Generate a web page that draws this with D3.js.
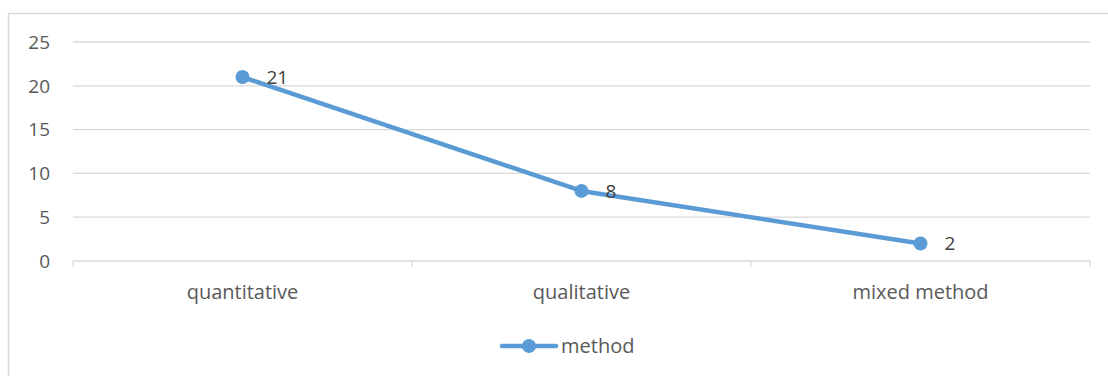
<!DOCTYPE html>
<html>
<head>
<meta charset="utf-8">
<script src="https://cdn.jsdelivr.net/npm/d3@7"></script>
<style>
  body { margin: 0; background: #fff; }
  text { font-family: "Open Sans", "Noto Sans", sans-serif; }
</style>
</head>
<body>
<div id="chart"></div>
<script>
const categories = ["quantitative", "qualitative", "mixed method"];
const values = [21, 8, 2];
const yTicks = [0, 5, 10, 15, 20, 25];
const seriesName = "method";

const width = 1108, height = 376;
const margin = {top: 42, right: 18, bottom: 115, left: 73};
const color = "#5B9BD5";

const svg = d3.select("#chart").append("svg")
  .attr("width", width)
  .attr("height", height);

// chart area border
svg.append("rect")
  .attr("x", 8.5).attr("y", 13.5)
  .attr("width", width + 10).attr("height", height + 10)
  .attr("fill", "none")
  .attr("stroke", "#d9d9d9")
  .attr("stroke-width", 1.5);

const x = d3.scaleBand()
  .domain(categories)
  .range([margin.left, width - margin.right]);

const y = d3.scaleLinear()
  .domain([0, 25])
  .range([height - margin.bottom, margin.top]);

// gridlines
svg.append("g")
  .selectAll("line")
  .data(yTicks.filter(d => d > 0))
  .join("line")
  .attr("x1", margin.left).attr("x2", width - margin.right)
  .attr("y1", d => y(d)).attr("y2", d => y(d))
  .attr("stroke", "#d9d9d9")
  .attr("stroke-width", 1.3);

// y labels
svg.append("g")
  .selectAll("text")
  .data(yTicks)
  .join("text")
  .attr("x", 50)
  .attr("y", d => y(d))
  .attr("dy", "0.36em")
  .attr("text-anchor", "end")
  .attr("fill", "#595959")
  .style("font-size", "19px")
  .text(d => d);

// x axis
const xAxis = svg.append("g")
  .attr("transform", `translate(0,${y(0)})`);
xAxis.append("line")
  .attr("x1", margin.left).attr("x2", width - margin.right)
  .attr("stroke", "#d9d9d9").attr("stroke-width", 1.3);
const bounds = categories.map(c => x(c)).concat([x(categories[categories.length - 1]) + x.bandwidth()]);
xAxis.selectAll(".tk")
  .data(bounds)
  .join("line")
  .attr("class", "tk")
  .attr("x1", d => d).attr("x2", d => d)
  .attr("y1", 0).attr("y2", 6)
  .attr("stroke", "#d9d9d9").attr("stroke-width", 1.3);
xAxis.selectAll(".lbl")
  .data(categories)
  .join("text")
  .attr("class", "lbl")
  .attr("x", d => x(d) + x.bandwidth() / 2)
  .attr("y", 38)
  .attr("text-anchor", "middle")
  .attr("fill", "#595959")
  .style("font-size", "20px")
  .text(d => d);

// line
const pts = categories.map((c, i) => ({c, v: values[i]}));
const line = d3.line()
  .x(d => x(d.c) + x.bandwidth() / 2)
  .y(d => y(d.v));

svg.append("path")
  .datum(pts)
  .attr("d", line)
  .attr("fill", "none")
  .attr("stroke", color)
  .attr("stroke-width", 4.5)
  .attr("stroke-linecap", "round")
  .attr("stroke-linejoin", "round");

svg.append("g")
  .selectAll("circle")
  .data(pts)
  .join("circle")
  .attr("cx", d => x(d.c) + x.bandwidth() / 2)
  .attr("cy", d => y(d.v))
  .attr("r", 7)
  .attr("fill", color);

// data labels
svg.append("g")
  .selectAll("text")
  .data(pts)
  .join("text")
  .attr("x", d => x(d.c) + x.bandwidth() / 2 + 24)
  .attr("y", d => y(d.v))
  .attr("dy", "0.36em")
  .attr("fill", "#404040")
  .style("font-size", "19px")
  .text(d => d.v);

// legend
const leg = svg.append("g").attr("transform", "translate(502,346)");
leg.append("line")
  .attr("x1", 0).attr("x2", 54)
  .attr("stroke", color).attr("stroke-width", 4.5)
  .attr("stroke-linecap", "round");
leg.append("circle")
  .attr("cx", 27).attr("r", 7).attr("fill", color);
leg.append("text")
  .attr("x", 59).attr("dy", "0.36em")
  .attr("fill", "#595959")
  .style("font-size", "20px")
  .text(seriesName);
</script>
</body>
</html>
